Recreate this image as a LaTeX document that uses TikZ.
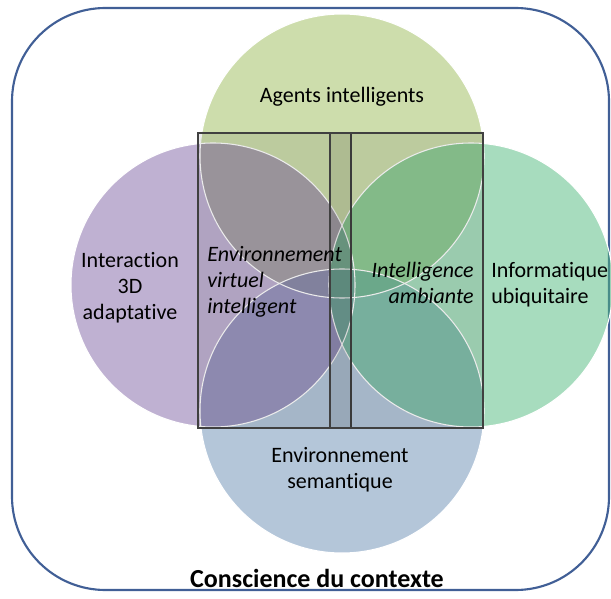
\documentclass[tikz,border=0pt]{standalone}
\usepackage{fontspec}
\setmainfont{Carlito}[Ligatures=NoCommon]
\usetikzlibrary{positioning}

\definecolor{agentgreen}{RGB}{155,187,89}
\definecolor{interpurple}{RGB}{128,100,165}
\definecolor{ubigreen}{RGB}{80,185,125}
\definecolor{semblue}{RGB}{105,142,180}
\definecolor{frameblue}{RGB}{65,95,150}
\definecolor{boxgray}{RGB}{64,64,64}

\tikzset{
  disc/.style={fill opacity=0.5},
  zonebox/.style={draw=boxgray,line width=1.2pt,fill=black,fill opacity=0.08},
  lbl/.style={font=\fontsize{16.5}{19.4}\selectfont,inner sep=0pt},
}

\begin{document}
\begin{tikzpicture}[x=0.75pt,y=-0.75pt]
\useasboundingbox (0,0) rectangle (611,599);
% the frame
\draw[frameblue,line width=1.6pt,rounded corners=70pt] (12,8) rectangle (609,590);

% the four discs
\fill[disc,fill=agentgreen] (342,156) circle[radius=106.5pt];
\fill[disc,fill=semblue] (342,411) circle[radius=106.5pt];
\fill[disc,fill=interpurple] (213,285) circle[radius=106.5pt];
\fill[disc,fill=ubigreen] (471,285) circle[radius=106.5pt];
\draw[white,thick] (342,156) circle[radius=106.5pt];
\draw[white,thick] (342,411) circle[radius=106.5pt];
\draw[white,thick] (213,285) circle[radius=106.5pt];
\draw[white,thick] (471,285) circle[radius=106.5pt];

% the two zones
\draw[zonebox] (198,133) rectangle (351,428);
\draw[zonebox] (330,133) rectangle (483,428);

\node[lbl] (agents) at (342,97) {Agents intelligents};
\node[lbl,align=center] (interaction) at (130,288) {Interaction\\3D\\adaptative};
\node[lbl,align=left,anchor=west] (ubiquitaire) at (491,285) {Informatique\\ubiquitaire};
\node[lbl,align=center] (semantique) at (340,470) {Environnement\\semantique};
\node[lbl,align=left,anchor=west,font=\fontsize{16.5}{19.4}\selectfont\itshape] (evi) at (207,282) {Environnement\\virtuel\\intelligent};
\node[lbl,align=right,anchor=east,font=\fontsize{16.5}{19.4}\selectfont\itshape] (ambiante) at (474,283) {Intelligence\\ambiante};

\node[font=\fontsize{19.5}{22}\selectfont\bfseries] (contexte) at (317,578) {Conscience du contexte};

\end{tikzpicture}
\end{document}
